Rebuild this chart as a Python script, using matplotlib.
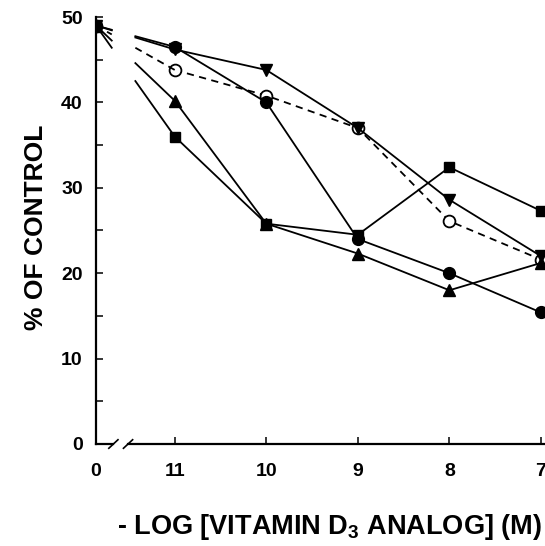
import numpy as np
import matplotlib.pyplot as plt

plt.rcParams['font.family'] = ['Liberation Sans', 'DejaVu Sans']
plt.rcParams['font.weight'] = 'bold'
plt.rcParams['mathtext.fontset'] = 'custom'
plt.rcParams['mathtext.rm'] = 'Liberation Sans:bold'
plt.rcParams['mathtext.default'] = 'rm'

# Values (% of control)
x_labels = ['0', '11', '10', '9', '8', '7']
log_conc = [11, 10, 9, 8, 7]
control = 49
circle_filled = [46.5, 40.0, 24.0, 20.0, 15.4]
square_filled = [36.0, 25.8, 24.5, 32.4, 27.3]
triangle_up = [40.2, 25.8, 22.3, 18.0, 21.2]
triangle_down = [46.2, 43.8, 37.0, 28.6, 22.0]
circle_open = [43.8, 40.8, 37.0, 26.1, 21.6]

# x positions: control at 0, broken axis, then one unit per log step
offset = 0.86
xpos = [offset + (11 - c) for c in log_conc]

fig = plt.figure(figsize=(5.45, 5.46), dpi=100)
ax = fig.add_axes([96 / 545, 1 - 444 / 546, 448.6 / 545, 427 / 546])

series = [
    (circle_open, dict(marker='o', mfc='white', mec='black', mew=1.3, ms=8.5, ls=(0, (4, 3)))),
    (circle_filled, dict(marker='o', mfc='black', mec='black', ms=8.5, ls='-')),
    (triangle_up, dict(marker='^', mfc='black', mec='black', ms=8.5, ls='-')),
    (triangle_down, dict(marker='v', mfc='black', mec='black', ms=8.5, ls='-')),
    (square_filled, dict(marker='s', mfc='black', mec='black', ms=7, ls='-')),
]

for vals, st in series:
    ls = st.pop('ls')
    # main part of the curve
    ax.plot(xpos, vals, color='black', lw=1.3, ls=ls, **st)
    # segment from control point across the axis break, shown only in pieces
    x0, y0, x1, y1 = 0, control, xpos[0], vals[0]
    for a, b in [(0, 0.2), (0.5, 1.0)]:
        ax.plot([x0 + a * (x1 - x0), x0 + b * (x1 - x0)],
                [y0 + a * (y1 - y0), y0 + b * (y1 - y0)],
                color='black', lw=1.3, ls=ls)
    ax.plot([0], [control], color='black', ls='none', **st)

ax.set_xlim(0, 4.9)
ax.set_ylim(0, 50)
ax.set_xticks([0] + xpos)
ax.set_xticklabels(x_labels)
ax.set_yticks(range(0, 51, 10))
ax.set_yticks(range(5, 50, 10), minor=True)
ax.tick_params(axis='both', which='both', direction='in', length=5, width=1.1, labelsize=14)
ax.tick_params(axis='x', pad=14)
ax.tick_params(axis='y', pad=9.5)
for lab in ax.get_xticklabels() + ax.get_yticklabels():
    lab.set_fontweight('bold')

for s in ['top', 'right', 'bottom']:
    ax.spines[s].set_visible(False)
ax.spines['left'].set_linewidth(1.6)

# broken x axis
ax.plot([0, 0.19], [0, 0], color='black', lw=1.6, clip_on=False)
ax.plot([0.35, 4.9], [0, 0], color='black', lw=1.6, clip_on=False)
for xb in [0.19, 0.35]:
    ax.plot([xb - 0.05, xb + 0.05], [-0.5, 0.5], color='black', lw=1.2, clip_on=False)

fig.text(36 / 545, 1 - 227 / 546, '% OF CONTROL', rotation=90, ha='center', va='center',
         fontsize=19, fontweight='bold')
fig.text(329 / 545, 1 - 527 / 546, '- LOG [VITAMIN D$_3$ ANALOG] (M)', ha='center', va='center',
         fontsize=19.5, fontweight='bold')

fig.savefig('out.png', dpi=100)
